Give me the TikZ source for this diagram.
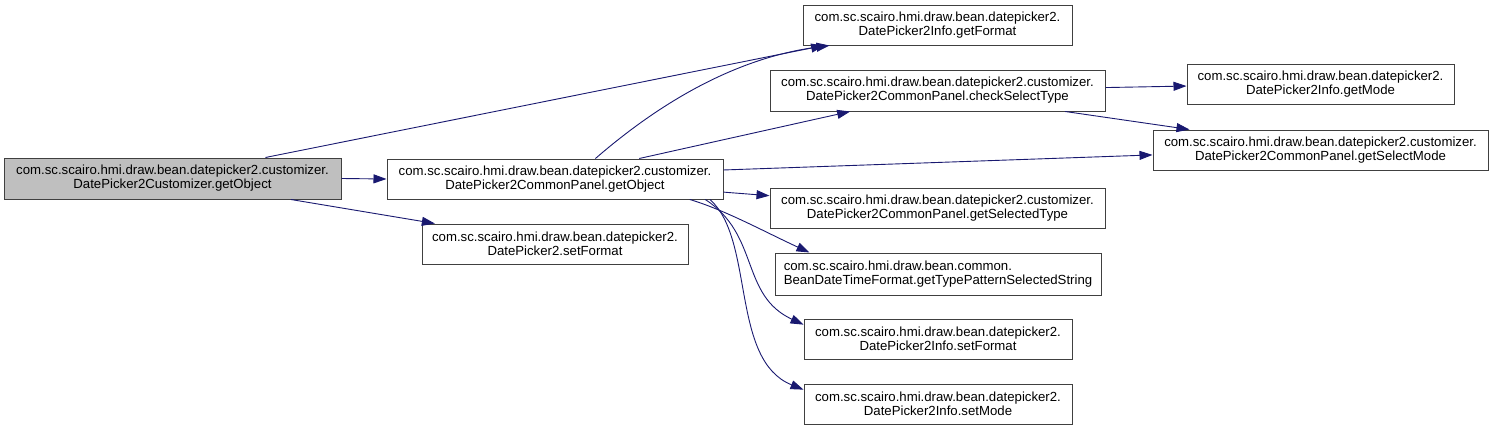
\documentclass[tikz,border=0pt]{standalone}
\usepackage{fontspec}
\setmainfont{Liberation Sans}
\usetikzlibrary{calc,arrows.meta}
\definecolor{edgec}{HTML}{191970}
\definecolor{boxc}{HTML}{404040}
\definecolor{rootc}{HTML}{BFBFBF}
\tikzset{
  fn/.style={draw=boxc, line width=1pt, fill=white, inner sep=0pt, align=center,
    font=\fontsize{13.2pt}{14pt}\selectfont},
  rootfn/.style={fn, fill=rootc},
  call/.style={draw=edgec, line width=0.9pt, -{Triangle[length=13pt,width=9pt]}},
}
\begin{document}
\begin{tikzpicture}[x=1pt,y=-1pt]
\useasboundingbox (0,0) rectangle (1493,431);
\node[rootfn, minimum width=337pt, minimum height=41pt] (root) at (172.5,178.5) {com.sc.scairo.hmi.draw.bean.datepicker2.customizer.\\DatePicker2Customizer.getObject};
\node[fn, minimum width=336pt, minimum height=40pt] (cp) at (555,179) {com.sc.scairo.hmi.draw.bean.datepicker2.customizer.\\DatePicker2CommonPanel.getObject};
\node[fn, minimum width=266pt, minimum height=40pt] (dpsf) at (555,244) {com.sc.scairo.hmi.draw.bean.datepicker2.\\DatePicker2.setFormat};
\node[fn, minimum width=269pt, minimum height=40pt] (gf) at (937.5,25) {com.sc.scairo.hmi.draw.bean.datepicker2.\\DatePicker2Info.getFormat};
\node[fn, minimum width=335pt, minimum height=41pt] (cst) at (937.5,90.5) {com.sc.scairo.hmi.draw.bean.datepicker2.customizer.\\DatePicker2CommonPanel.checkSelectType};
\node[fn, minimum width=267pt, minimum height=40pt] (gm) at (1320.5,84) {com.sc.scairo.hmi.draw.bean.datepicker2.\\DatePicker2Info.getMode};
\node[fn, minimum width=335pt, minimum height=40pt] (gsm) at (1320.5,150) {com.sc.scairo.hmi.draw.bean.datepicker2.customizer.\\DatePicker2CommonPanel.getSelectMode};
\node[fn, minimum width=335pt, minimum height=40pt] (gst) at (937.5,208) {com.sc.scairo.hmi.draw.bean.datepicker2.customizer.\\DatePicker2CommonPanel.getSelectedType};
\node[fn, align=left, minimum width=326pt, minimum height=42pt] (gtp) at (938,274) {com.sc.scairo.hmi.draw.bean.common.\\BeanDateTimeFormat.getTypePatternSelectedString};
\node[fn, minimum width=268pt, minimum height=40pt] (sfi) at (938,339) {com.sc.scairo.hmi.draw.bean.datepicker2.\\DatePicker2Info.setFormat};
\node[fn, minimum width=268pt, minimum height=40pt] (sm) at (938,404) {com.sc.scairo.hmi.draw.bean.datepicker2.\\DatePicker2Info.setMode};

\draw[call] (root.east) -- (cp.west);
\draw[call] ($(root.north west)!0.775!(root.north east)$) -- ($(gf.south west)!0.08!(gf.south east)$);
\draw[call] ($(root.south west)!0.85!(root.south east)$) -- ($(dpsf.north west)!0.05!(dpsf.north east)$);
\draw[call] ($(cp.north west)!0.62!(cp.north east)$) .. controls (640,120) and (720,60) .. ($(gf.south west)!0.1!(gf.south east)$);
\draw[call] ($(cp.north west)!0.75!(cp.north east)$) -- ($(cst.south west)!0.24!(cst.south east)$);
\draw[call] ($(cp.north east)!0.28!(cp.south east)$) -- ($(gsm.north west)!0.62!(gsm.south west)$);
\draw[call] ($(cp.north east)!0.82!(cp.south east)$) -- ($(gst.north west)!0.2!(gst.south west)$);
\draw[call] ($(cst.north east)!0.43!(cst.south east)$) -- ($(gm.north west)!0.55!(gm.south west)$);
\draw[call] ($(cst.south west)!0.88!(cst.south east)$) -- ($(gsm.north west)!0.11!(gsm.north east)$);
\draw[call] ($(cp.south west)!0.9!(cp.south east)$) .. controls (725,210) and (765,232) .. ($(gtp.north west)!0.107!(gtp.north east)$);
\draw[call] ($(cp.south west)!0.946!(cp.south east)$) .. controls (760,235) and (740,295) .. ($(sfi.north west)!0.15!(sfi.south west)$);
\draw[call] ($(cp.south west)!0.96!(cp.south east)$) .. controls (755,240) and (730,360) .. ($(sm.north west)!0.15!(sm.south west)$);
\end{tikzpicture}
\end{document}
